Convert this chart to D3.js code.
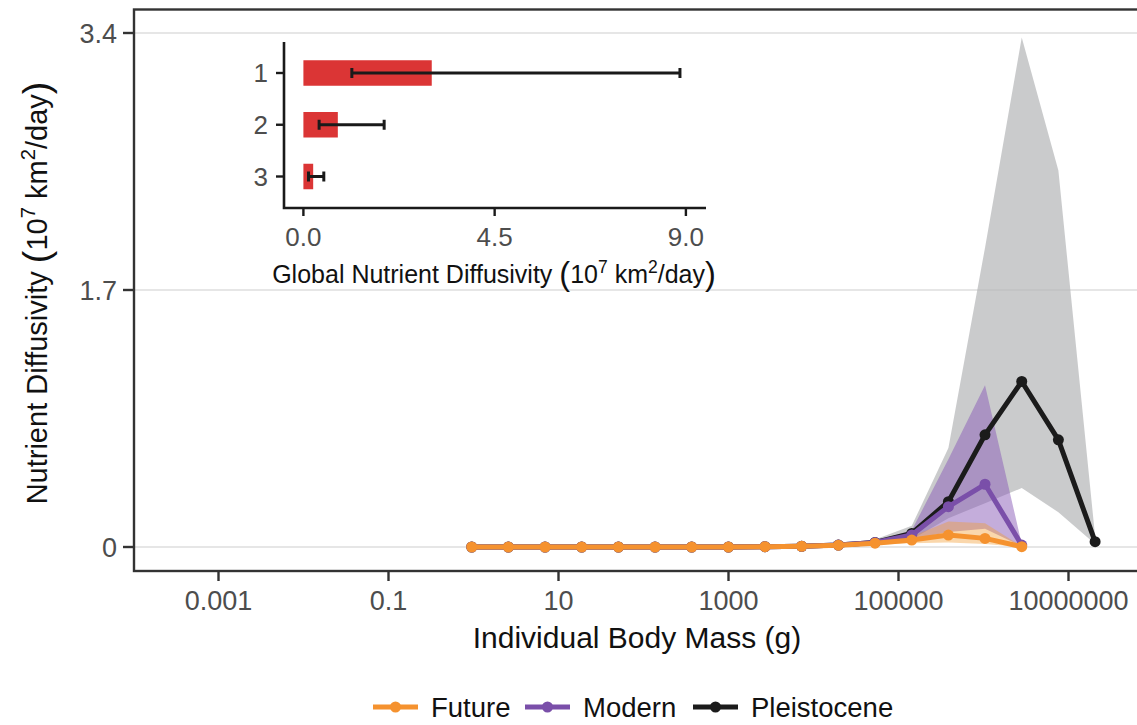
<!DOCTYPE html>
<html>
<head>
<meta charset="utf-8">
<script src="https://cdn.jsdelivr.net/npm/d3@7"></script>
<style>
  body { margin: 0; background: #fff; }
  svg { display: block; font-family: "Liberation Sans", Arial, sans-serif; }
</style>
</head>
<body>
<div id="chart"></div>
<script>
// body mass bins (g)
const massBins = [0.953, 2.57, 6.95, 18.75, 50.7, 136.8, 369, 998, 2692, 7261, 19630,
                  52970, 143200, 386400, 1042000, 2818000, 7603000, 20560000];

const futureVal = [0, 0, 0, 0, 0, 0, 0, 0, 0.002, 0.005, 0.012, 0.025, 0.046, 0.079, 0.057, 0.002];
const futureLo  = [0, 0, 0, 0, 0, 0, 0, 0, 0.001, 0.003, 0.008, 0.015, 0.025, 0.03, 0.02, 0];
const futureHi  = [0, 0, 0, 0, 0, 0, 0, 0, 0.003, 0.008, 0.02, 0.04, 0.07, 0.168, 0.157, 0.005];

const modernVal = [0, 0, 0, 0, 0, 0, 0, 0, 0.002, 0.005, 0.013, 0.03, 0.08, 0.267, 0.415, 0.013];
const modernLo  = [0, 0, 0, 0, 0, 0, 0, 0, 0.001, 0.003, 0.008, 0.015, 0.05, 0.10, 0.12, 0.005];
const modernHi  = [0, 0, 0, 0, 0, 0, 0, 0, 0.003, 0.008, 0.02, 0.04, 0.11, 0.58, 1.07, 0.02];

const pleistVal = [0, 0, 0, 0, 0, 0, 0, 0, 0.002, 0.005, 0.013, 0.03, 0.09, 0.30, 0.742, 1.095, 0.709, 0.035];
const pleistLo  = [0, 0, 0, 0, 0, 0, 0, 0, 0.001, 0.003, 0.008, 0.01, 0.05, 0.19, 0.29, 0.39, 0.23, 0.02];
const pleistHi  = [0, 0, 0, 0, 0, 0, 0, 0, 0.003, 0.008, 0.02, 0.05, 0.14, 0.655, 1.98, 3.37, 2.49, 0.07];

const seriesNames = ["Future", "Modern", "Pleistocene"];
const seriesColors = ["#f5922f", "#7a4fa9", "#1b1b1b"];
const ribbonColors = ["#f39a30", "#8a5bb8", "#b4b5b7"];

const xTicks = [0.001, 0.1, 10, 1000, 100000, 10000000];
const xTickLabels = ["0.001", "0.1", "10", "1000", "100000", "10000000"];
const yTicks = [0, 1.7, 3.4];
const yTickLabels = ["0", "1.7", "3.4"];

// inset: global totals per scenario
const insetCats = ["1", "2", "3"];
const insetMean = [3.02, 0.81, 0.23];
const insetLo = [1.14, 0.37, 0.12];
const insetHi = [8.86, 1.90, 0.48];
const insetTicks = [0, 4.5, 9];
const insetTickLabels = ["0.0", "4.5", "9.0"];

const W = 1137, H = 725;
const svg = d3.select("#chart").append("svg").attr("width", W).attr("height", H);

const x = d3.scaleLog().domain([0.001, 1e7]).range([218.5, 1068.5]);
const y = d3.scaleLinear().domain([0, 3.4]).range([547, 33]);

const panel = { left: 134, right: 1140, top: 9.5, bottom: 571 };

// gridlines
svg.append("g").selectAll("line").data(yTicks).join("line")
    .attr("x1", panel.left).attr("x2", panel.right)
    .attr("y1", d => y(d)).attr("y2", d => y(d))
    .attr("stroke", "#e6e6e6").attr("stroke-width", 2);

// series table
const series = [
    { vals: futureVal, lo: futureLo, hi: futureHi },
    { vals: modernVal, lo: modernLo, hi: modernHi },
    { vals: pleistVal, lo: pleistLo, hi: pleistHi }
].map((s, i) => ({
    name: seriesNames[i], color: seriesColors[i], rib: ribbonColors[i],
    pts: s.vals.map((v, j) => ({ m: massBins[j], v: v, lo: s.lo[j], hi: s.hi[j] }))
}));

const area = d3.area().x(d => x(d.m)).y0(d => y(d.lo)).y1(d => y(d.hi));
const line = d3.line().x(d => x(d.m)).y(d => y(d.v));
const ribbonAlpha = [0.4, 0.5, 0.7];

// ribbons, back to front: Pleistocene, Modern, Future
[2, 1, 0].forEach(i => {
    svg.append("path").datum(series[i].pts)
        .attr("d", area)
        .attr("fill", series[i].rib)
        .attr("fill-opacity", ribbonAlpha[i]);
});

[2, 1, 0].forEach(i => {
    const s = series[i];
    svg.append("path").datum(s.pts)
        .attr("d", line)
        .attr("fill", "none")
        .attr("stroke", s.color)
        .attr("stroke-width", 5)
        .attr("stroke-linejoin", "round");
    svg.append("g").selectAll("circle").data(s.pts).join("circle")
        .attr("cx", d => x(d.m)).attr("cy", d => y(d.v)).attr("r", 5.5)
        .attr("fill", s.color);
});

// panel border
svg.append("rect")
    .attr("x", panel.left).attr("y", panel.top)
    .attr("width", panel.right - panel.left).attr("height", panel.bottom - panel.top)
    .attr("fill", "none").attr("stroke", "#333").attr("stroke-width", 2.4);

// x axis ticks + labels
const xg = svg.append("g");
xg.selectAll("line").data(xTicks).join("line")
    .attr("x1", d => x(d)).attr("x2", d => x(d))
    .attr("y1", panel.bottom).attr("y2", panel.bottom + 10)
    .attr("stroke", "#333").attr("stroke-width", 2.4);
xg.selectAll("text").data(xTicks).join("text")
    .attr("x", d => x(d)).attr("y", 610)
    .attr("text-anchor", "middle")
    .attr("font-size", 27).attr("fill", "#4d4d4d")
    .text((d, i) => xTickLabels[i]);

// y axis ticks + labels
const yg = svg.append("g");
yg.selectAll("line").data(yTicks).join("line")
    .attr("x1", panel.left - 11).attr("x2", panel.left)
    .attr("y1", d => y(d)).attr("y2", d => y(d))
    .attr("stroke", "#333").attr("stroke-width", 2.4);
yg.selectAll("text").data(yTicks).join("text")
    .attr("x", 117).attr("y", d => y(d) + 9.5)
    .attr("text-anchor", "end")
    .attr("font-size", 27).attr("fill", "#4d4d4d")
    .text((d, i) => yTickLabels[i]);

// text with plotmath-like superscripts and tall parentheses
function richText(t, pieces, size) {
    let shift = 0;
    pieces.forEach(p => {
        const ts = t.append("tspan").text(p.t);
        let target = 0;
        if (p.sup) { ts.attr("font-size", size * 0.7); target = -size * 0.42; }
        else if (p.big) { ts.attr("font-size", size * 1.3); target = size * 0.08; }
        ts.attr("dy", target - shift);
        shift = target;
    });
}
const unitPieces = [
    { t: " " }, { t: "(", big: true }, { t: "10" }, { t: "7", sup: true },
    { t: " km" }, { t: "2", sup: true }, { t: "/day" }, { t: ")", big: true }
];

// axis titles
richText(svg.append("text")
    .attr("x", 637).attr("y", 648)
    .attr("text-anchor", "middle").attr("font-size", 30).attr("fill", "#111"),
    [{ t: "Individual Body Mass (g)" }], 30);

richText(svg.append("text")
    .attr("transform", "translate(37,293) rotate(-90)")
    .attr("y", 10)
    .attr("text-anchor", "middle").attr("font-size", 29).attr("fill", "#111"),
    [{ t: "Nutrient Diffusivity" }].concat(unitPieces), 29);

// ---- inset bar chart ----
const xi = d3.scaleLinear().domain([0, 9]).range([303.4, 685.9]);
const yi = d3.scalePoint().domain(insetCats).range([73, 176.5]);
const barH = 25.5;
const inset = { left: 284, right: 706, top: 42, bottom: 208 };
const insetData = insetCats.map((c, i) => ({ c: c, v: insetMean[i], lo: insetLo[i], hi: insetHi[i] }));

const ig = svg.append("g");
ig.selectAll("rect").data(insetData).join("rect")
    .attr("x", xi(0)).attr("y", d => yi(d.c) - barH / 2)
    .attr("width", d => xi(d.v) - xi(0)).attr("height", barH)
    .attr("fill", "#db3535");

const eb = ig.append("g").attr("stroke", "#1a1a1a").attr("stroke-width", 3);
eb.selectAll("line.h").data(insetData).join("line").attr("class", "h")
    .attr("x1", d => xi(d.lo)).attr("x2", d => xi(d.hi))
    .attr("y1", d => yi(d.c)).attr("y2", d => yi(d.c));
eb.selectAll("line.l").data(insetData).join("line").attr("class", "l")
    .attr("x1", d => xi(d.lo)).attr("x2", d => xi(d.lo))
    .attr("y1", d => yi(d.c) - 5).attr("y2", d => yi(d.c) + 5);
eb.selectAll("line.r").data(insetData).join("line").attr("class", "r")
    .attr("x1", d => xi(d.hi)).attr("x2", d => xi(d.hi))
    .attr("y1", d => yi(d.c) - 5).attr("y2", d => yi(d.c) + 5);

// inset axes
ig.append("path")
    .attr("d", `M${inset.left},${inset.top}V${inset.bottom}H${inset.right}`)
    .attr("fill", "none").attr("stroke", "#1a1a1a").attr("stroke-width", 2.6);
ig.append("g").selectAll("line").data(insetCats).join("line")
    .attr("x1", inset.left - 8).attr("x2", inset.left)
    .attr("y1", d => yi(d)).attr("y2", d => yi(d))
    .attr("stroke", "#1a1a1a").attr("stroke-width", 2.4);
ig.append("g").selectAll("text").data(insetCats).join("text")
    .attr("x", 268).attr("y", d => yi(d) + 9)
    .attr("text-anchor", "end").attr("font-size", 26).attr("fill", "#4d4d4d")
    .text(d => d);
ig.append("g").selectAll("line").data(insetTicks).join("line")
    .attr("x1", d => xi(d)).attr("x2", d => xi(d))
    .attr("y1", inset.bottom).attr("y2", inset.bottom + 8)
    .attr("stroke", "#1a1a1a").attr("stroke-width", 2.4);
ig.append("g").selectAll("text").data(insetTicks).join("text")
    .attr("x", d => xi(d)).attr("y", 246)
    .attr("text-anchor", "middle").attr("font-size", 26).attr("fill", "#4d4d4d")
    .text((d, i) => insetTickLabels[i]);

richText(ig.append("text")
    .attr("x", 494).attr("y", 283)
    .attr("text-anchor", "middle").attr("font-size", 25).attr("fill", "#111"),
    [{ t: "Global Nutrient Diffusivity" }].concat(unitPieces), 25);

// ---- legend ----
const legX = [373, 525, 693];
const leg = svg.append("g").selectAll("g").data(seriesNames).join("g")
    .attr("transform", (d, i) => `translate(${legX[i]},707)`);
leg.append("line").attr("x1", 0).attr("x2", 45)
    .attr("stroke", (d, i) => seriesColors[i]).attr("stroke-width", 5);
leg.append("circle").attr("cx", 22.5).attr("r", 5.5)
    .attr("fill", (d, i) => seriesColors[i]);
leg.append("text").attr("x", 58).attr("y", 10)
    .attr("font-size", 27.5).attr("fill", "#111")
    .text(d => d);
</script>
</body>
</html>
